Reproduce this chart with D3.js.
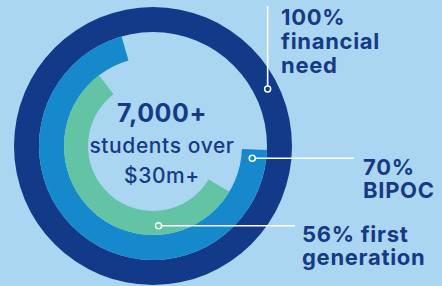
<!DOCTYPE html>
<html>
<head>
<meta charset="utf-8">
<script src="https://cdn.jsdelivr.net/npm/d3@7"></script>
<style>
  html, body { margin: 0; padding: 0; background: #abd6f2; }
  svg { display: block; }
  text { font-family: Inter, "Noto Sans", sans-serif; fill: #163a86; }
</style>
</head>
<body>
<script>
// ring data
var categories = ["financial need", "BIPOC", "first generation"];
var values = [100, 70, 56];
var labelLines = [["100%", "financial", "need"], ["70%", "BIPOC"], ["56% first", "generation"]];
var centerLines = ["7,000+", "students over", "$30m+"];

var width = 442, height = 286;
var cx = 153, cy = 146;
var colors = ["#133a88", "#1589cb", "#63c3a5"];
var radii = [[114, 139], [89, 114], [65, 89]];
var startAngles = [0, 92, 121]; // degrees, clockwise from top
var dotAngles = [63.6, 97, 176];
var dotRadius = [128, 100, 80];

var svg = d3.select("body").append("svg")
    .attr("width", width)
    .attr("height", height);

var angle = d3.scaleLinear().domain([0, 100]).range([0, 2 * Math.PI]);
var deg = function (d) { return d * Math.PI / 180; };

var g = svg.append("g").attr("transform", "translate(" + cx + "," + cy + ")");

var arc = d3.arc();
g.selectAll("path.ring")
    .data(values)
    .enter().append("path")
    .attr("class", "ring")
    .attr("fill", function (d, i) { return colors[i]; })
    .attr("d", function (d, i) {
        var a0 = deg(startAngles[i]);
        return arc({
            innerRadius: radii[i][0],
            outerRadius: radii[i][1],
            startAngle: a0,
            endAngle: a0 + angle(d)
        });
    });

// leader lines
function dotPos(i) {
    var a = deg(dotAngles[i]);
    return [Math.sin(a) * dotRadius[i], -Math.cos(a) * dotRadius[i]];
}
var lineEnds = [
    function (p) { return [p[0], 6 - cy]; },
    function (p) { return [354 - cx, p[1]]; },
    function (p) { return [295 - cx, p[1]]; }
];
values.forEach(function (v, i) {
    var p = dotPos(i);
    var e = lineEnds[i](p);
    g.append("line")
        .attr("x1", p[0]).attr("y1", p[1])
        .attr("x2", e[0]).attr("y2", e[1])
        .attr("stroke", "#ffffff")
        .attr("stroke-width", 1.6);
    g.append("circle")
        .attr("cx", p[0]).attr("cy", p[1])
        .attr("r", 3)
        .attr("fill", colors[i])
        .attr("stroke", "#ffffff")
        .attr("stroke-width", 1.5);
});

// labels
var labelX = [281, 363, 302];
var labelY = [25, 175, 242];
var lineGap = [24, 23, 23];
labelLines.forEach(function (lines, i) {
    var t = svg.append("text")
        .attr("x", labelX[i])
        .attr("y", labelY[i])
        .style("font-size", "22px")
        .style("font-weight", 700)
        .style("letter-spacing", "0.7px");
    lines.forEach(function (s, j) {
        t.append("tspan")
            .attr("x", labelX[i])
            .attr("y", labelY[i] + j * lineGap[i])
            .text(s);
    });
});

// center text
var centerX = 162;
var centerY = [122, 153, 183];
var centerSize = [25, 21, 21];
var centerWeight = [700, 500, 500];
centerLines.forEach(function (s, i) {
    svg.append("text")
        .attr("x", centerX).attr("y", centerY[i])
        .attr("text-anchor", "middle")
        .style("font-size", centerSize[i] + "px")
        .style("font-weight", centerWeight[i])
        .style("letter-spacing", "0.6px")
        .text(s);
});
</script>
</body>
</html>
